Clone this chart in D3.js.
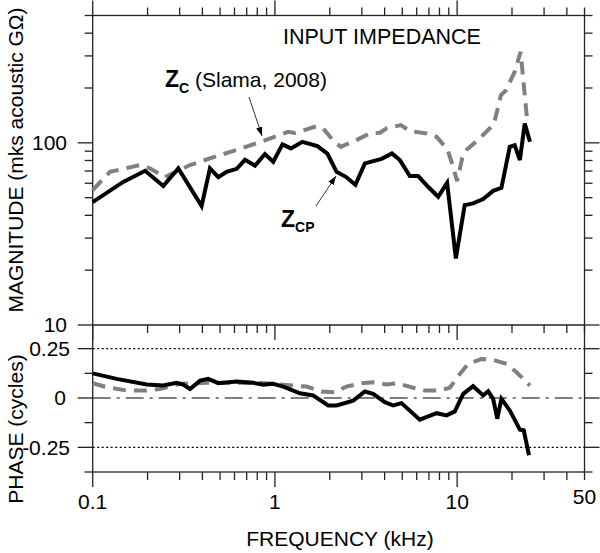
<!DOCTYPE html>
<html><head><meta charset="utf-8">
<script src="https://cdn.jsdelivr.net/npm/d3@7"></script>
<style>body{margin:0;background:#fff}svg{display:block;font-family:"Liberation Sans",Arial,Helvetica,sans-serif}</style>
</head><body><svg id="c" width="600" height="553"></svg>
<script>
// ---- data (frequency in kHz) ----
const freqZcp = [0.1,0.147,0.194,0.244,0.295,0.396,0.44,0.489,0.543,0.617,0.685,0.777,0.881,0.979,1.10,1.224,1.415,1.71,1.94,2.18,2.45,2.765,3.117,3.85,4.385,4.85,5.5,6.11,6.93,7.87,8.81,9.84,11.0,12.24,13.9,15.76,17.5,19.45,20.7,22.1,23.5,25.1];
const magZcp  = [47.3,61,70.2,57.9,72.4,45,72.4,64.8,69.3,72,80.7,75,86.7,78.7,98.1,93.2,101.3,95.9,87.3,69.3,65.1,58.8,77.1,81.7,87.5,80.4,65.7,65.7,57.4,50.6,60.3,23.2,45.5,46.5,49.1,54.5,56.6,95.1,97.1,80.4,127.8,101.3];
const freqZc  = [0.1,0.1244,0.1817,0.206,0.249,0.342,0.479,0.643,0.881,1.18,1.288,1.68,1.84,2.09,2.30,2.85,3.32,3.77,4.10,4.91,5.5,6.79,7.71,8.83,9.41,10.0,10.68,11.3,13.0,15.9,17.4,18.5,20.7,22.3,23.0,24.1];
const magZc   = [55,69.3,75.5,72.4,64.8,75.5,84.5,92.7,103.1,114.9,113.4,123,120,102.8,95.1,104.5,112.6,113.7,120,125.1,116.2,112.6,107.9,92.3,76.4,61.6,82.9,91.8,103.5,126.3,182.7,193.9,245.2,315.6,230,140.1];
const freqPhZcp = [0.1,0.1354,0.198,0.244,0.288,0.314,0.342,0.3885,0.43,0.489,0.617,0.76,0.862,0.979,1.111,1.37,1.62,1.96,2.18,2.69,3.117,3.46,4.01,4.46,4.95,6.24,7.71,8.75,9.71,10.8,12.24,13.9,14.8,15.76,16.6,17.5,19.45,22.1,23.2,24.8];
const phaseZcp  = [0.125,0.097,0.068,0.063,0.077,0.068,0.046,0.088,0.097,0.075,0.083,0.077,0.067,0.072,0.058,0.024,0.013,-0.038,-0.038,-0.013,0.033,0.021,-0.021,-0.038,-0.026,-0.110,-0.077,-0.088,-0.068,0.021,0.060,0.013,0.034,-0.004,-0.105,-0.004,-0.063,-0.161,-0.164,-0.290];
const freqPhZc = [0.1,0.1194,0.1537,0.198,0.234,0.301,0.422,0.59,0.9,1.26,1.49,1.80,2.13,2.47,2.99,3.46,4.10,4.65,5.74,6.65,8.04,9.12,10.35,11.5,13.6,15.76,18.7,21.2,25.1];
const phaseZc  = [0.075,0.055,0.038,0.038,0.046,0.072,0.077,0.077,0.075,0.063,0.058,0.033,0.029,0.058,0.075,0.080,0.068,0.075,0.052,0.038,0.038,0.052,0.122,0.173,0.198,0.193,0.173,0.130,0.063];

// ---- ticks ----
const xMajor = [0.1,1,10];
const xMinor = [0.2,0.3,0.4,0.5,0.6,0.7,0.8,0.9,2,3,4,5,6,7,8,9,20,30,40,50];
const xTickLabels = ["0.1","1","10","50"];
const xTickValues = [0.1,1,10,50];
const magMajor = [10,100];
const magMinor = [20,30,40,50,60,70,80,90,200,300,400,500];
const magTickLabels = ["10","100"];
const phMajor = [-0.25,0,0.25];
const phMinor = [-0.375,-0.125,0.125];
const phTickLabels = ["-0.25","0","0.25"];

const svg = d3.select("#c");
const L = 92.7, R = 584.5, T = 15.5, M = 325, B = 472;
const x = d3.scaleLog().domain([0.1,50]).range([L,R]);
const yM = d3.scaleLog().domain([10,500]).range([M,T]);
const yP = d3.scaleLinear().domain([-0.375,0.375]).range([B,324]);

const axisCol = "#222", axW = 1.3;
const g = svg.append("g");

// frame
g.append("rect").attr("x",L).attr("y",T).attr("width",R-L).attr("height",B-T)
  .attr("fill","none").attr("stroke",axisCol).attr("stroke-width",axW);
g.append("line").attr("x1",L).attr("x2",R).attr("y1",M).attr("y2",M).attr("stroke",axisCol).attr("stroke-width",axW);

function vticks(vals, y0, len){
  g.selectAll(null).data(vals).enter().append("line")
   .attr("x1",d=>x(d)).attr("x2",d=>x(d)).attr("y1",y0).attr("y2",y0+len)
   .attr("stroke",axisCol).attr("stroke-width",axW);
}
function hticks(vals, sc, x0, len){
  g.selectAll(null).data(vals).enter().append("line")
   .attr("y1",d=>sc(d)).attr("y2",d=>sc(d)).attr("x1",x0).attr("x2",x0+len)
   .attr("stroke",axisCol).attr("stroke-width",axW);
}
// x ticks: top (up), middle (down), bottom (down)
vticks(xMajor, T, -15); vticks(xMinor, T, -8);
vticks(xMajor, M, 15); vticks(xMinor, M, 8);
vticks(xMajor, B, 15); vticks(xMinor, B, 8);
// y ticks magnitude
hticks(magMajor, yM, L, -15); hticks(magMinor, yM, L, -8);
hticks(magMajor, yM, R, 15); hticks(magMinor, yM, R, 8);
// phase ticks
hticks(phMajor, yP, L, -15); hticks(phMinor, yP, L, -8);
hticks(phMajor, yP, R, 15); hticks(phMinor, yP, R, 8);

// phase reference lines
g.selectAll(null).data([0.25,-0.25]).enter().append("line")
  .attr("x1",L).attr("x2",R).attr("y1",d=>yP(d)).attr("y2",d=>yP(d))
  .attr("stroke","#000").attr("stroke-width",1.1).attr("stroke-dasharray","2,2.5");
g.append("line").attr("x1",L).attr("x2",R).attr("y1",yP(0)).attr("y2",yP(0))
  .attr("stroke","#000").attr("stroke-width",1.2).attr("stroke-dasharray","18,6,3,6");

// tick labels
const fs = 21;
g.selectAll(null).data(magMajor).enter().append("text")
  .attr("x",67).attr("y",d=>yM(d)).attr("dy","0.35em").attr("text-anchor","end")
  .attr("font-size",fs).text((d,i)=>magTickLabels[i]);
g.selectAll(null).data(phMajor).enter().append("text")
  .attr("x",d=>d===0?66:70).attr("y",d=>yP(d)).attr("dy","0.35em").attr("text-anchor","end")
  .attr("font-size",fs).text((d,i)=>phTickLabels[i]);
g.selectAll(null).data(xTickValues).enter().append("text")
  .attr("x",d=>x(d)).attr("y",d=>d===50?504:509).attr("text-anchor","middle")
  .attr("font-size",fs).text((d,i)=>xTickLabels[i]);

// axis titles
g.append("text").attr("x",340).attr("y",546).attr("text-anchor","middle").attr("font-size",fs).text("FREQUENCY (kHz)");
g.append("text").attr("transform","translate(23,160) rotate(-90)").attr("text-anchor","middle").attr("font-size",fs).text("MAGNITUDE (mks acoustic GΩ)");
g.append("text").attr("transform","translate(23,429) rotate(-90)").attr("text-anchor","middle").attr("font-size",fs).text("PHASE (cycles)");
g.append("text").attr("x",283).attr("y",44).attr("font-size",21.5).text("INPUT IMPEDANCE");

// curves
const lineM = d3.line().x(d=>x(d[0])).y(d=>yM(d[1]));
const lineP = d3.line().x(d=>x(d[0])).y(d=>yP(d[1]));
const grey = "#808080";
g.append("path").attr("d", lineM(freqZc.map((f,i)=>[f,magZc[i]])))
  .attr("fill","none").attr("stroke",grey).attr("stroke-width",4).attr("stroke-dasharray","13,8");
g.append("path").attr("d", lineP(freqPhZc.map((f,i)=>[f,phaseZc[i]])))
  .attr("fill","none").attr("stroke",grey).attr("stroke-width",4).attr("stroke-dasharray","13,8");
g.append("path").attr("d", lineM(freqZcp.map((f,i)=>[f,magZcp[i]])))
  .attr("fill","none").attr("stroke","#000").attr("stroke-width",4);
g.append("path").attr("d", lineP(freqPhZcp.map((f,i)=>[f,phaseZcp[i]])))
  .attr("fill","none").attr("stroke","#000").attr("stroke-width",4);

// annotations
svg.append("defs").append("marker").attr("id","ah").attr("viewBox","0 0 10 10")
  .attr("refX",10).attr("refY",5).attr("markerWidth",9).attr("markerHeight",9)
  .attr("markerUnits","userSpaceOnUse").attr("orient","auto")
  .append("path").attr("d","M0,1.5 L10,5 L0,8.5 Z").attr("fill","#000");
const t1 = g.append("text").attr("x",165).attr("y",87);
t1.append("tspan").attr("font-weight","bold").attr("font-size",23).text("Z");
t1.append("tspan").attr("font-weight","bold").attr("font-size",14).attr("dy",6).text("C");
t1.append("tspan").attr("font-size",fs).attr("dy",-6).text(" (Slama, 2008)");
g.append("line").attr("x1",249).attr("y1",97).attr("x2",262).attr("y2",136)
  .attr("stroke","#000").attr("stroke-width",0.8).attr("marker-end","url(#ah)");
const t2 = g.append("text").attr("x",281).attr("y",227);
t2.append("tspan").attr("font-weight","bold").attr("font-size",23).text("Z");
t2.append("tspan").attr("font-weight","bold").attr("font-size",14).attr("dy",5).text("CP");
g.append("line").attr("x1",316).attr("y1",206).attr("x2",336).attr("y2",176)
  .attr("stroke","#000").attr("stroke-width",0.8).attr("marker-end","url(#ah)");
</script></body></html>
